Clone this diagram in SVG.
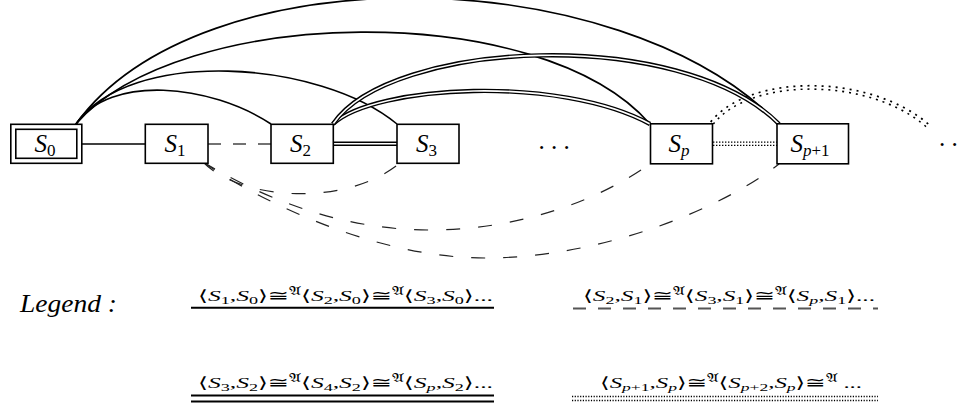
<svg xmlns="http://www.w3.org/2000/svg" width="962" height="409" viewBox="0 0 962 409">
<style>
.box{fill:#fff;stroke:#000;stroke-width:1.6}
.lbl{font-family:"Liberation Serif","DejaVu Serif",serif;font-style:italic;font-size:25px;text-anchor:middle;fill:#000}
.n{font-style:normal;font-size:17px}
.pi{font-style:italic;font-size:17px}
.arc{fill:none;stroke:#000;stroke-width:1.6}
.dblo{fill:none;stroke:#000;stroke-width:4.4}
.dbli{fill:none;stroke:#fff;stroke-width:1.6}
.dash{fill:none;stroke:#222;stroke-width:1.2;stroke-dasharray:14 18}
.sdash{fill:none;stroke:#444;stroke-width:1.3;stroke-dasharray:13 12}
.doto{fill:none;stroke:#000;stroke-width:4.4;stroke-dasharray:1.4 1.6}
.arcdoto{fill:none;stroke:#000;stroke-width:5;stroke-dasharray:2 5}
.f{font-family:"Liberation Serif","DejaVu Serif","DejaVu Sans",serif;font-style:italic;font-size:15.5px;fill:#000}
.u{font-style:normal}
.s{font-style:normal;font-size:11px}
.si{font-style:italic;font-size:11px}
.leg{font-family:"Liberation Serif","DejaVu Serif",serif;font-style:italic;font-size:26px;fill:#000}
</style>
<g id="connectors">
  <line class="arc" x1="82" y1="144" x2="145" y2="144"/>
  <line class="sdash" x1="208" y1="144" x2="271" y2="144"/>
  <path class="dash" d="M203,162 C240,200 345,208 400,163"/>
  <path class="dash" d="M203,162 C250,190 330,230 430,230 C520,230 600,200 651,163"/>
  <path class="dash" d="M203,162 C250,195 370,258 485,258 C600,258 720,210 779,164"/>
  <path class="arcdoto" d="M712,123 C750,75 870,75 928,126"/>
  <path class="dbli" style="stroke-width:1.8" d="M712,123 C750,75 870,75 928,126"/>
  <path class="arc" d="M76,124 C110,74 210,84 271,124"/>
  <path class="arc" d="M76,124 C130,47 320,60 397,124"/>
  <path class="arc" d="M76,124 C180,5 540,-2 650,124"/>
  <path class="arc" d="M76,124 C200,-48 620,-40 779,124"/>
  <path class="dblo" d="M333,124 C375,85 560,75 650,124"/>
  <path class="dbli" d="M333,124 C375,85 560,75 650,124"/>
  <path class="dblo" d="M333,124 C390,40 680,25 779,124"/>
  <path class="dbli" d="M333,124 C390,40 680,25 779,124"/>
  <line class="dblo" x1="333" y1="143.7" x2="397" y2="143.7"/>
  <line class="dbli" x1="333" y1="143.7" x2="397" y2="143.7"/>
  <line class="doto" x1="713" y1="143.7" x2="777" y2="143.7"/>
  <line class="dbli" style="stroke-width:2" x1="713" y1="143.7" x2="777" y2="143.7"/>
</g>
<g id="S0">
  <rect class="box" x="10.8" y="124.3" width="71" height="39"/>
  <rect class="box" x="15.8" y="129.3" width="61" height="29"/>
  <text class="lbl" x="45" y="151.5">S<tspan class="n" dy="4">0</tspan></text>
</g>
<g id="S1">
  <rect class="box" x="145.3" y="124.3" width="62.7" height="39"/>
  <text class="lbl" x="175" y="151.5">S<tspan class="n" dy="4">1</tspan></text>
</g>
<g id="S2">
  <rect class="box" x="271" y="124.3" width="62.3" height="39"/>
  <text class="lbl" x="300.5" y="151.5">S<tspan class="n" dy="4">2</tspan></text>
</g>
<g id="S3">
  <rect class="box" x="397" y="124.3" width="62" height="39"/>
  <text class="lbl" x="426.5" y="151.5">S<tspan class="n" dy="4">3</tspan></text>
</g>
<g id="Sp">
  <rect class="box" x="650.5" y="123.8" width="62" height="40"/>
  <text class="lbl" x="679" y="151.5">S<tspan class="pi" dy="4">p</tspan></text>
</g>
<g id="Sp1">
  <rect class="box" x="777" y="123.8" width="71.5" height="40"/>
  <text class="lbl" x="810" y="151.5">S<tspan class="pi" dy="4">p</tspan><tspan class="n">+1</tspan></text>
</g>
<g id="ellipses">
  <text class="lbl" x="554" y="149" style="font-style:normal">. . .</text>
  <text class="lbl" x="939" y="146" style="font-style:normal;text-anchor:start">. .</text>
</g>
<g id="legend">
  <text class="leg" x="20" y="312" textLength="97" lengthAdjust="spacingAndGlyphs">Legend :</text>
  <text class="f" x="198" y="301" textLength="295" lengthAdjust="spacingAndGlyphs"><tspan class="u">⟨</tspan>S<tspan class="s" dy="3">1</tspan><tspan class="u" dy="-3">,</tspan>S<tspan class="s" dy="3">0</tspan><tspan class="u" dy="-3">⟩≅</tspan><tspan class="s" dy="-6">𝔄</tspan><tspan class="u" dy="6">⟨</tspan>S<tspan class="s" dy="3">2</tspan><tspan class="u" dy="-3">,</tspan>S<tspan class="s" dy="3">0</tspan><tspan class="u" dy="-3">⟩≅</tspan><tspan class="s" dy="-6">𝔄</tspan><tspan class="u" dy="6">⟨</tspan>S<tspan class="s" dy="3">3</tspan><tspan class="u" dy="-3">,</tspan>S<tspan class="s" dy="3">0</tspan><tspan class="u" dy="-3">⟩...</tspan></text>
  <line x1="191" y1="307.7" x2="494" y2="307.7" stroke="#000" stroke-width="2"/>
  <text class="f" x="583" y="301" textLength="292" lengthAdjust="spacingAndGlyphs"><tspan class="u">⟨</tspan>S<tspan class="s" dy="3">2</tspan><tspan class="u" dy="-3">,</tspan>S<tspan class="s" dy="3">1</tspan><tspan class="u" dy="-3">⟩≅</tspan><tspan class="s" dy="-6">𝔄</tspan><tspan class="u" dy="6">⟨</tspan>S<tspan class="s" dy="3">3</tspan><tspan class="u" dy="-3">,</tspan>S<tspan class="s" dy="3">1</tspan><tspan class="u" dy="-3">⟩≅</tspan><tspan class="s" dy="-6">𝔄</tspan><tspan class="u" dy="6">⟨</tspan>S<tspan class="si" dy="3">p</tspan><tspan class="u" dy="-3">,</tspan>S<tspan class="s" dy="3">1</tspan><tspan class="u" dy="-3">⟩...</tspan></text>
  <line x1="573" y1="308.5" x2="878" y2="308.5" stroke="#555" stroke-width="2" stroke-dasharray="13 12"/>
  <text class="f" x="198" y="388" textLength="295" lengthAdjust="spacingAndGlyphs"><tspan class="u">⟨</tspan>S<tspan class="s" dy="3">3</tspan><tspan class="u" dy="-3">,</tspan>S<tspan class="s" dy="3">2</tspan><tspan class="u" dy="-3">⟩≅</tspan><tspan class="s" dy="-6">𝔄</tspan><tspan class="u" dy="6">⟨</tspan>S<tspan class="s" dy="3">4</tspan><tspan class="u" dy="-3">,</tspan>S<tspan class="s" dy="3">2</tspan><tspan class="u" dy="-3">⟩≅</tspan><tspan class="s" dy="-6">𝔄</tspan><tspan class="u" dy="6">⟨</tspan>S<tspan class="si" dy="3">p</tspan><tspan class="u" dy="-3">,</tspan>S<tspan class="s" dy="3">2</tspan><tspan class="u" dy="-3">⟩...</tspan></text>
  <line x1="191" y1="395.5" x2="494" y2="395.5" stroke="#000" stroke-width="2"/>
  <line x1="191" y1="401.5" x2="494" y2="401.5" stroke="#000" stroke-width="2"/>
  <text class="f" x="600" y="388" textLength="262" lengthAdjust="spacingAndGlyphs"><tspan class="u">⟨</tspan>S<tspan class="si" dy="3">p</tspan><tspan class="s">+1</tspan><tspan class="u" dy="-3">,</tspan>S<tspan class="si" dy="3">p</tspan><tspan class="u" dy="-3">⟩≅</tspan><tspan class="s" dy="-6">𝔄</tspan><tspan class="u" dy="6">⟨</tspan>S<tspan class="si" dy="3">p</tspan><tspan class="s">+2</tspan><tspan class="u" dy="-3">,</tspan>S<tspan class="si" dy="3">p</tspan><tspan class="u" dy="-3">⟩≅</tspan><tspan class="s" dy="-6">𝔄</tspan><tspan class="u" dy="6"> ...</tspan></text>
  <line x1="572" y1="396.5" x2="878" y2="396.5" stroke="#000" stroke-width="1.4" stroke-dasharray="1.2 1.5"/>
  <line x1="572" y1="400.5" x2="878" y2="400.5" stroke="#000" stroke-width="1.4" stroke-dasharray="1.2 1.5"/>
</g>
</svg>
